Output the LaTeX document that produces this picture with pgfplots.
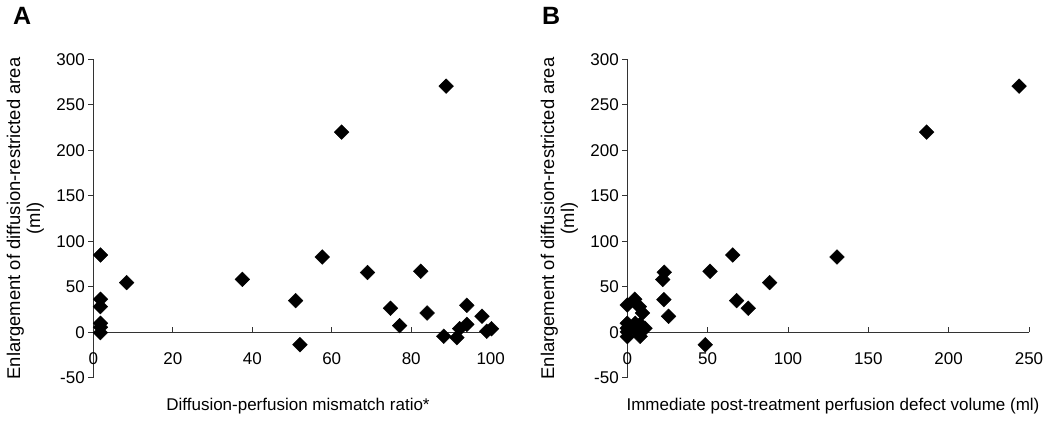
\documentclass[border=0pt]{standalone}
\usepackage{fontspec}
\setmainfont{Liberation Sans}
\usepackage{pgfplots}
\pgfplotsset{compat=1.18}
\pgfplotsset{
 myax/.style={
  scale only axis,
  anchor=south west,
  height=318.5pt,
  ymin=-50, ymax=300,
  ytick={-50,0,50,100,150,200,250,300},
  axis y line=left,
  axis x line=middle,
  axis line style={-, line width=0.8pt, black!80},
  tick align=outside,
  major tick length=5pt,
  tick style={line width=0.8pt, black!80},
  xtick style={yshift=5pt},
  hide obscured x ticks=false,
  hide obscured y ticks=false,
  xticklabel style={anchor=center, yshift=-21pt},
  font=\fontsize{17}{20}\selectfont,
  tick label style={font=\fontsize{17}{20}\selectfont},
  /pgf/number format/assume math mode=true,
  clip=false,
 },
 dia/.style={only marks, mark=square*, mark size=5.2pt, draw=black, fill=black,
     mark options={rotate=45, fill=black, draw=black}},
}
\begin{document}
\begin{tikzpicture}[x=1pt,y=1pt]
\useasboundingbox (0,0) rectangle (1050,422);
\begin{axis}[myax, at={(93.3pt,44.2pt)}, width=397.4pt,
  xmin=0, xmax=100, xtick={0,20,40,60,80,100}]
\addplot[dia] coordinates {
(88.8,270.5) (62.5,220) (1.8,85) (8.4,54.6) (37.5,58.2) (57.6,82.8)
(69,65.6) (82.4,67) (50.9,34.8) (52,-13.6) (74.8,26.4) (77.1,7.3)
(84,21.2) (94,29.7) (88.2,-4.4) (91.5,-5.9) (92.2,4) (94,8.8)
(97.8,17.6) (99,1.1) (100.2,4)
(1.8,36.3) (1.8,28.2) (1.8,9.9) (1.8,5.5) (1.8,-0.4)
};
\end{axis}
\begin{axis}[myax, at={(627.3pt,44.2pt)}, width=401.7pt,
  xmin=0, xmax=250, xtick={0,50,100,150,200,250}]
\addplot[dia] coordinates {
(243.8,270.5) (186.3,220) (130.5,82.8) (65.6,85) (51.5,67) (23,66)
(22,58) (88.6,54.6) (22.8,35.9) (68,34.8) (75.3,26.4) (25.7,17.6)
(48.5,-13.6) (0,30) (4.6,36.3) (7.5,28.2) (9.5,21.2) (0,9.9)
(0,4.4) (0,0.5) (0,-4.8) (5,9.9) (8,8.8) (11,4.4) (8,-4.4) (6,1.1)
};
\end{axis}
\node[rotate=90, align=center, font=\fontsize{18.4}{20}\selectfont] at (25.3,203.5)
  {Enlargement of diffusion-restricted area\\(ml)};
\node[rotate=90, align=center, font=\fontsize{18.4}{20}\selectfont] at (559.3,203.5)
  {Enlargement of diffusion-restricted area\\(ml)};
\node[anchor=base, font=\fontsize{17}{20}\selectfont] at (298,11) {Diffusion-perfusion mismatch ratio*};
\node[anchor=base, font=\fontsize{17}{20}\selectfont] at (833,11) {Immediate post-treatment perfusion defect volume (ml)};
\node[anchor=base west, inner sep=0pt, font=\fontsize{25}{28}\selectfont\bfseries] at (13,397) {A};
\node[anchor=base west, inner sep=0pt, font=\fontsize{25}{28}\selectfont\bfseries] at (542,397) {B};
\end{tikzpicture}
\end{document}
